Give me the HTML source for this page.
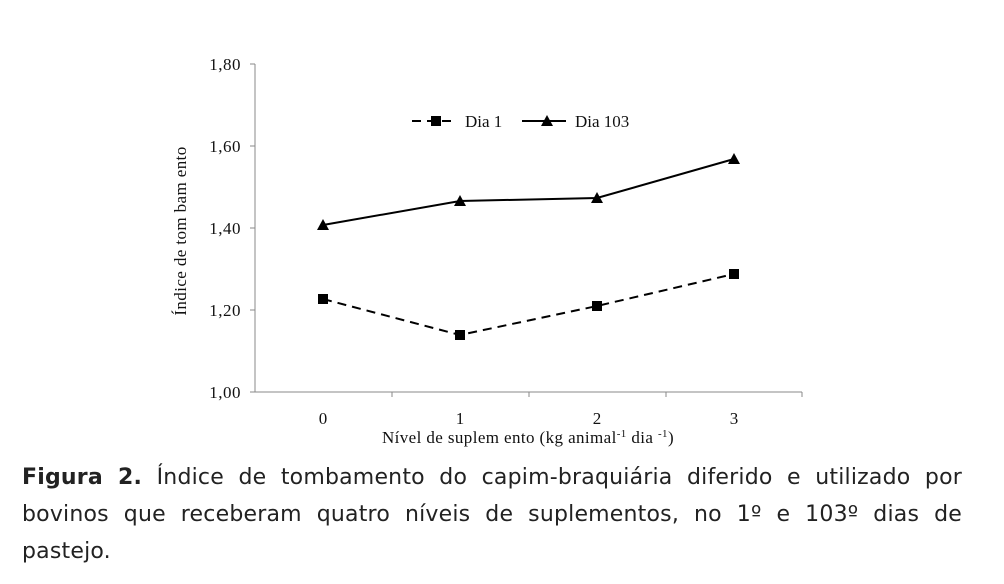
<!DOCTYPE html>
<html><head><meta charset="utf-8"><style>
html,body{margin:0;padding:0;background:#fff;}
body{width:1004px;height:584px;position:relative;overflow:hidden;}
svg{position:absolute;left:0;top:0;}
.cap{position:absolute;left:22px;top:459px;width:940px;font-family:"DejaVu Sans","Liberation Sans",sans-serif;font-size:22px;line-height:37px;color:#222;text-align:justify;letter-spacing:0.2px;}
</style></head><body>
<svg width="1004" height="460" font-family="Liberation Serif, serif" font-size="17" fill="#111">
<g stroke="#888" stroke-width="1">
<line x1="255" y1="64" x2="255" y2="392"/>
<line x1="255" y1="392" x2="802" y2="392"/>
<line x1="250" y1="64" x2="255" y2="64"/>
<line x1="250" y1="146" x2="255" y2="146"/>
<line x1="250" y1="228" x2="255" y2="228"/>
<line x1="250" y1="310" x2="255" y2="310"/>
<line x1="250" y1="392" x2="255" y2="392"/>
<line x1="392" y1="392" x2="392" y2="397"/>
<line x1="529" y1="392" x2="529" y2="397"/>
<line x1="666" y1="392" x2="666" y2="397"/>
<line x1="802" y1="392" x2="802" y2="397"/>
</g>
<g text-anchor="end" letter-spacing="0.5">
<text x="241" y="70">1,80</text><text x="241" y="152">1,60</text><text x="241" y="234">1,40</text><text x="241" y="316">1,20</text><text x="241" y="398">1,00</text>
</g>
<g text-anchor="middle">
<text x="323" y="424">0</text><text x="460" y="424">1</text><text x="597" y="424">2</text><text x="734" y="424">3</text>
<text x="528" y="443" letter-spacing="0.4">Nível de suplem ento (kg animal<tspan font-size="11" dy="-6">-1</tspan><tspan dy="6"> dia </tspan><tspan font-size="11" dy="-6">-1</tspan><tspan dy="6">)</tspan></text>
<text transform="translate(186,231) rotate(-90)" letter-spacing="0.4">Índice de tom bam ento</text>
</g>
<polyline points="323,225 460,201 597,198 734,159" fill="none" stroke="#000" stroke-width="2"/>
<polyline points="323,299 460,335 597,306 734,274" fill="none" stroke="#000" stroke-width="2" stroke-dasharray="9,6"/>
<g fill="#000">
<rect x="318" y="294" width="10" height="10"/><rect x="455" y="330" width="10" height="10"/><rect x="592" y="301" width="10" height="10"/><rect x="729" y="269" width="10" height="10"/>
<polygon points="323,219 329,230 317,230"/><polygon points="460,195 466,206 454,206"/><polygon points="597,192 603,203 591,203"/><polygon points="734,153 740,164 728,164"/>
</g>
<line x1="412" y1="121" x2="452" y2="121" stroke="#000" stroke-width="2" stroke-dasharray="9,6"/>
<rect x="431" y="116" width="10" height="10" fill="#000"/>
<text x="465" y="127">Dia 1</text>
<line x1="522" y1="121" x2="566" y2="121" stroke="#000" stroke-width="2"/>
<polygon points="547,115 553,126 541,126" fill="#000"/>
<text x="575" y="127">Dia 103</text>
</svg>
<div class="cap"><b>Figura 2.</b> Índice de tombamento do capim-braquiária diferido e utilizado por bovinos que receberam quatro níveis de suplementos, no 1º e 103º dias de pastejo.</div>
</body></html>
